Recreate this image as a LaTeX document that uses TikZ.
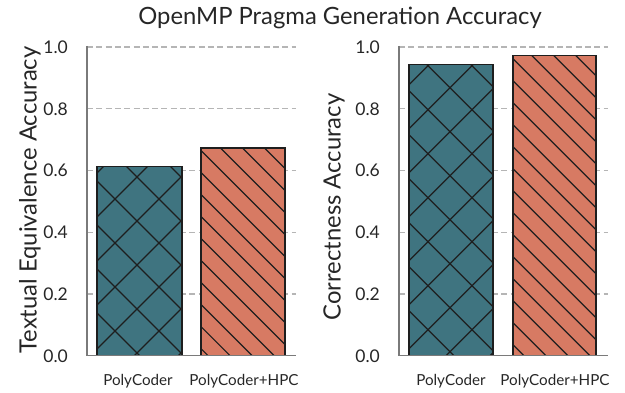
\documentclass[tikz,border=0pt]{standalone}
\usepackage{fontspec}
\setmainfont{Lato}
\definecolor{tealbar}{HTML}{3F7480}
\definecolor{orangebar}{HTML}{D77A63}
\definecolor{edgecol}{HTML}{1E1E1E}
\definecolor{spinecol}{HTML}{7A7A7A}
\definecolor{gridcol}{HTML}{B5B5B5}
\definecolor{txtcol}{HTML}{262626}
\begin{document}
\begin{tikzpicture}[x=1pt,y=-1pt,
  gridline/.style={gridcol,line width=1.4pt,dash pattern=on 6pt off 3.3pt},
  spine/.style={spinecol,line width=1.6pt},
  baredge/.style={edgecol,line width=1.5pt},
  hatchline/.style={edgecol,line width=1.2pt},
  ticklab/.style={font=\fontsize{17.5}{19}\selectfont,text=txtcol,anchor=east,inner sep=0pt},
  xlab/.style={font=\fontsize{15.2}{17}\selectfont,text=txtcol,inner sep=0pt},
  ylab/.style={font=\fontsize{23.8}{26}\selectfont,text=txtcol,rotate=90,inner sep=0pt},
  titlelab/.style={font=\fontsize{23.8}{26}\selectfont,text=txtcol,inner sep=0pt}]
\useasboundingbox (0,0) rectangle (625,393);
\node[titlelab] (title) at (340,18) {OpenMP Pragma Generation Accuracy};
% ---------- left panel ----------
\foreach \v/\yy in {0.2/294.2,0.4/232.4,0.6/170.6,0.8/108.8,1.0/47}{
  \draw[gridline] (87,\yy) -- (296,\yy);
}
\foreach \v/\yy in {0.0/356,0.2/294.2,0.4/232.4,0.6/170.6,0.8/108.8,1.0/47}{
  \node[ticklab] at (68,\yy) {\v};
}
% bar 1 (x hatch)
\fill[tealbar] (97,166.5) rectangle (182,355);
\begin{scope}
\clip (97,166.5) rectangle (182,355);
\foreach \k in {-15,...,15}{
  \draw[hatchline] ({-84+44*\k},0) -- ({-84+44*\k+400},400);
  \draw[hatchline] ({314+44*\k},0) -- ({314+44*\k-400},400);
}
\end{scope}
\draw[baredge] (97,355) -- (97,166.5) -- (182,166.5) -- (182,355);
% bar 2 (\ hatch)
\fill[orangebar] (201,148) rectangle (285,355);
\begin{scope}
\clip (201,148) rectangle (285,355);
\foreach \k in {-25,...,25}{
  \draw[hatchline] ({72.4+22*\k},0) -- ({72.4+22*\k+400},400);
}
\end{scope}
\draw[baredge] (201,355) -- (201,148) -- (285,148) -- (285,355);
\draw[spine] (87,46) -- (87,355.5) -- (296,355.5);
\node[ylab] (yl1) at (30,200) {Textual Equivalence Accuracy};
\node[xlab] (xa1) at (138,381) {PolyCoder};
\node[xlab] (xb1) at (244,381) {PolyCoder+HPC};
% ---------- right panel ----------
\foreach \v/\yy in {0.2/294.2,0.4/232.4,0.6/170.6,0.8/108.8,1.0/47}{
  \draw[gridline] (399,\yy) -- (608,\yy);
}
\foreach \v/\yy in {0.0/356,0.2/294.2,0.4/232.4,0.6/170.6,0.8/108.8,1.0/47}{
  \node[ticklab] at (380,\yy) {\v};
}
\fill[tealbar] (409,64.5) rectangle (493,355);
\begin{scope}
\clip (409,64.5) rectangle (493,355);
\foreach \k in {-15,...,15}{
  \draw[hatchline] ({362.3+44*\k},0) -- ({362.3+44*\k+400},400);
  \draw[hatchline] ({537.7+44*\k},0) -- ({537.7+44*\k-400},400);
}
\end{scope}
\draw[baredge] (409,355) -- (409,64.5) -- (493,64.5) -- (493,355);
\fill[orangebar] (513,55.5) rectangle (596,355);
\begin{scope}
\clip (513,55.5) rectangle (596,355);
\foreach \k in {-25,...,25}{
  \draw[hatchline] ({476.2+22*\k},0) -- ({476.2+22*\k+400},400);
}
\end{scope}
\draw[baredge] (513,355) -- (513,55.5) -- (596,55.5) -- (596,355);
\draw[spine] (399,46) -- (399,355.5) -- (608,355.5);
\node[ylab] (yl2) at (334,207) {Correctness Accuracy};
\node[xlab] (xa2) at (451,381) {PolyCoder};
\node[xlab] (xb2) at (555,381) {PolyCoder+HPC};
\end{tikzpicture}
\end{document}
